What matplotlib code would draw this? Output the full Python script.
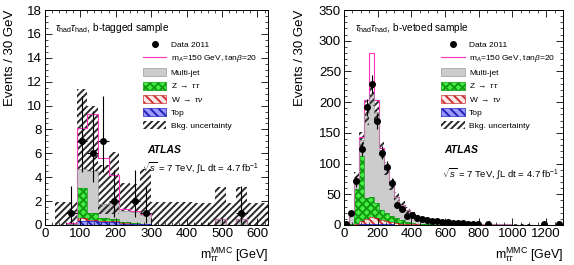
import numpy as np
import matplotlib
matplotlib.use("Agg")
import matplotlib.pyplot as plt
from matplotlib.ticker import MultipleLocator
from matplotlib.lines import Line2D
from matplotlib.patches import Patch

plt.rcParams['font.family'] = ['Liberation Sans', 'DejaVu Sans']
plt.rcParams['mathtext.fontset'] = 'custom'
plt.rcParams['mathtext.rm'] = 'Liberation Sans'
plt.rcParams['mathtext.it'] = 'Liberation Sans:italic'
plt.rcParams['mathtext.bf'] = 'Liberation Sans:bold'
plt.rcParams['hatch.linewidth'] = 1.4

# ---- b-tagged sample (30 GeV bins, 0-630) ----
edges_b = np.arange(0, 631, 30)
top_b = [0, 0.02, 0.05, 0.3, 0.35, 0.25, 0.25, 0.1, 0.05, 0.05,
         0.03, 0.03, 0.03, 0.03, 0.03, 0.03, 0.03, 0.03, 0.03, 0.03, 0.03]
w_b = [0, 0, 0.02, 0.25, 0.1, 0.1, 0.05, 0.05, 0.05, 0.02,
       0, 0, 0, 0, 0, 0, 0, 0, 0, 0, 0]
z_b = [0, 0, 0.03, 2.55, 0.55, 0.2, 0.2, 0.1, 0.05, 0.05,
       0.01, 0.01, 0.01, 0.01, 0.01, 0.01, 0.01, 0.01, 0.01, 0.01, 0.01]
mj_b = [0, 0, 0, 1.6, 3.5, 1.2, 1.3, 0.9, 0.9, 0.7,
        0, 0, 0, 0, 0, 0, 0.5, 0, 0.5, 0, 0]
sig_b = [0, 0, 0.05, 3.4, 4.8, 3.85, 2.4, 0.15, 0.1, 0.1,
         0, 0, 0, 0, 0, 0, 0, 0, 0, 0, 0]
unc_lo_b = [0, 0, 0, 4.7, 4.5, 0.9, 0.9, 1.2, 1.2, 0.9,
            0, 0, 0, 0, 0, 0, 0, 0, 0, 0, 0]
unc_hi_b = [0, 1.9, 1.9, 11.4, 10.0, 5.0, 6.1, 3.5, 3.4, 4.7,
            1.95, 1.9, 1.9, 1.9, 1.85, 1.85, 3.2, 1.8, 3.2, 1.8, 1.8]
data_x_b = [75, 105, 135, 165, 195, 255, 285, 555]
data_y_b = [1, 7, 6, 7, 2, 2, 1, 1]
data_elo_b = [0.83, 2.58, 2.38, 2.58, 1.29, 1.29, 0.83, 0.83]
data_ehi_b = [2.3, 3.77, 3.58, 3.77, 2.64, 2.64, 2.3, 2.3]

# ---- b-vetoed sample (30 GeV bins, 0-1290) ----
edges_v = np.arange(0, 1291, 30)
top_v = [0, 0, 0.3, 0.8, 1.2, 1.5, 1.5, 1.3, 1.1, 0.9, 0.7, 0.5, 0.4, 0.3, 0.25,
         0.2, 0.15, 0.1, 0.1, 0.1] + [0.05] * 23
w_v = [0, 0.3, 2, 5, 9, 11, 9.5, 7, 5, 3.5, 2.5, 1.7, 1.2, 0.8, 0.6,
       0.4, 0.3, 0.25, 0.2, 0.15] + [0.1] * 23
z_v = [0, 2, 56, 106, 34, 33, 25, 16, 13, 9.5, 7.8, 5.8, 3.4, 1.9, 1.2,
       0.9, 0.6, 0.45, 0.3, 0.25] + [0.15] * 23
mj_v = [2, 14.7, 17.7, 26, 138, 168, 148, 98, 73, 52, 35, 25, 19, 15, 11,
        8.5, 7, 5.7, 4.9, 4.0, 3.6, 3.0, 2.5, 2.1, 1.8, 1.5, 1.3, 1.1, 0.9, 0.8,
        0.7, 0.6, 0.5, 0.45, 0.4, 0.35, 0.3, 0.25, 0.2, 0.15, 0.15, 0.1, 0.1]
sig_v = [0, 0, 0, 5, 21, 66, 19, 3, 1, 0.5, 0.3] + [0] * 32
unc_v = [1.5, 5, 10, 14, 20, 20, 18, 13, 11, 9, 7, 5.5, 4.5, 3.5, 3, 2.5, 2, 1.7,
         1.4, 1.2, 1, 0.9, 0.8, 0.7, 0.6, 0.5, 0.5, 0.4, 0.4, 0.3, 0.3, 0.3, 0.2,
         0.2, 0.2, 0.2, 0.2, 0.1, 0.1, 0.1, 0.1, 0.1, 0.1]
data_v = [2, 19, 71, 124, 192, 229, 169, 118, 94, 69, 33, 26, 14, 17, 11, 9, 8, 7,
          6, 5, 5, 4, 4, 3, 2, 2, 1, 0, 1, 0, 0, 0, 0, 0, 0, 0, 0, 0, 0, 1, 0, 0, 1]

col_mj = '#cccccc'
col_sig = '#ff33bb'
col_band = '#2a2a2a'


def draw_panel(ax, edges, top, w, z, mj, sig, band_lo, band_hi, dx, dy, elo, ehi):
    top = np.asarray(top, float)
    w = np.asarray(w, float)
    z = np.asarray(z, float)
    mj = np.asarray(mj, float)
    b1 = top
    b2 = b1 + w
    b3 = b2 + z
    b4 = b3 + mj
    ax.stairs(b4, edges, baseline=b3, fill=True, facecolor=col_mj, edgecolor='none')
    ax.stairs(b3, edges, baseline=b2, fill=True, facecolor='#44ee44',
              edgecolor='#119911', hatch='xxxx', lw=0)
    ax.stairs(b3, edges, baseline=None, color='#119911', lw=0.5)
    ax.stairs(b2, edges, baseline=b1, fill=True, facecolor='#fbe6e6',
              edgecolor='#cc3333', hatch='\\\\\\\\', lw=0)
    ax.stairs(b2, edges, baseline=None, color='#aa2222', lw=0.5)
    ax.stairs(b1, edges, baseline=0, fill=True, facecolor='#9999ff',
              edgecolor='#2222bb', hatch='\\\\\\\\', lw=0)
    ax.stairs(b1, edges, baseline=None, color='#2222bb', lw=0.5)
    ax.stairs(band_hi, edges, baseline=band_lo, fill=True, facecolor='none',
              edgecolor=col_band, hatch='/////', lw=0)
    ax.stairs(b4 + np.asarray(sig, float), edges, baseline=None, color=col_sig, lw=0.8)
    ax.stairs(b4, edges, baseline=None, color='#999999', lw=0.5)
    ax.errorbar(dx, dy, xerr=15, yerr=[elo, ehi], fmt='o', color='black',
                markersize=4, elinewidth=0.8, capsize=0)
    ax.tick_params(direction='in', which='both', top=True, right=True,
                   labelsize=9.5, pad=2)
    ax.tick_params(which='major', length=5, width=0.6)
    ax.tick_params(which='minor', length=2.5, width=0.5)
    for s in ax.spines.values():
        s.set_linewidth(0.7)


fig = plt.figure(figsize=(5.74, 2.65), dpi=100)
ax1 = fig.add_axes([0.078, 0.151, 0.389, 0.811])
ax2 = fig.add_axes([0.599, 0.151, 0.382, 0.811])

draw_panel(ax1, edges_b, top_b, w_b, z_b, mj_b, sig_b, unc_lo_b, unc_hi_b,
           data_x_b, data_y_b, data_elo_b, data_ehi_b)
ax1.set_xlim(0, 630)
ax1.set_ylim(0, 18)
ax1.xaxis.set_major_locator(MultipleLocator(100))
ax1.xaxis.set_minor_locator(MultipleLocator(20))
ax1.yaxis.set_major_locator(MultipleLocator(2))
ax1.yaxis.set_minor_locator(MultipleLocator(0.5))

tot_v = np.asarray(top_v) + np.asarray(w_v) + np.asarray(z_v) + np.asarray(mj_v)
unc_v = np.asarray(unc_v)
centers_v = 0.5 * (edges_v[:-1] + edges_v[1:])
data_v = np.asarray(data_v, float)
m = data_v > 0
draw_panel(ax2, edges_v, top_v, w_v, z_v, mj_v, sig_v,
           np.clip(tot_v - unc_v, 0, None), tot_v + unc_v,
           centers_v[m], data_v[m], np.sqrt(data_v[m]), np.sqrt(data_v[m]))
ax2.set_xlim(0, 1300)
ax2.set_ylim(0, 350)
ax2.xaxis.set_major_locator(MultipleLocator(200))
ax2.xaxis.set_minor_locator(MultipleLocator(50))
ax2.yaxis.set_major_locator(MultipleLocator(50))
ax2.yaxis.set_minor_locator(MultipleLocator(10))

handles = [
    Line2D([], [], marker='o', color='black', ls='none', markersize=4),
    Line2D([], [], color=col_sig, lw=0.8),
    Patch(facecolor=col_mj, edgecolor='#999999', lw=0.5),
    Patch(facecolor='#44ee44', edgecolor='#119911', hatch='xxxx', lw=0.5),
    Patch(facecolor='#fbe6e6', edgecolor='#cc3333', hatch='\\\\\\\\', lw=0.5),
    Patch(facecolor='#9999ff', edgecolor='#2222bb', hatch='\\\\\\\\', lw=0.5),
    Patch(facecolor='white', edgecolor=col_band, hatch='/////', lw=0),
]
labels = ['Data 2011', r'm$_{A}$=150 GeV, tan$\beta$=20', 'Multi-jet',
          r'Z $\rightarrow$ $\tau\tau$', r'W $\rightarrow$ $\tau\nu$', 'Top',
          'Bkg. uncertainty']

for ax, lx, title, tx, ax_x, sx, sy, ylx in [
        (ax1, 0.425, 'b-tagged sample', 0.045, 0.457, 0.435, 0.265, -0.157),
        (ax2, 0.43, 'b-vetoed sample', 0.05, 0.46, 0.45, 0.235, -0.2)]:
    ax.legend(handles, labels, loc='upper left', bbox_to_anchor=(lx, 0.875),
              frameon=False, fontsize=6, handlelength=2.8, handleheight=1.1,
              labelspacing=0.5, handletextpad=0.5, borderaxespad=0)
    ax.text(tx, 0.915, r'$\tau_{\rm had}\tau_{\rm had}$, ' + title,
            transform=ax.transAxes, fontsize=7.3, va='center')
    ax.text(ax_x, 0.35, 'ATLAS', transform=ax.transAxes, fontsize=7.5,
            fontweight='bold', fontstyle='italic', va='center')
    ax.text(sx, sy, r'$\sqrt{s}$ = 7 TeV, $\int$L dt = 4.7 fb$^{-1}$',
            transform=ax.transAxes, fontsize=6.8, va='center')
    ax.text(1.0, -0.14, r'm$_{\tau\tau}^{\rm MMC}$ [GeV]', transform=ax.transAxes,
            fontsize=9, ha='right', va='center')
    ax.text(ylx, 1.0, 'Events / 30 GeV', transform=ax.transAxes, fontsize=9.5,
            rotation=90, ha='center', va='top')

fig.savefig('out.png', dpi=100)
